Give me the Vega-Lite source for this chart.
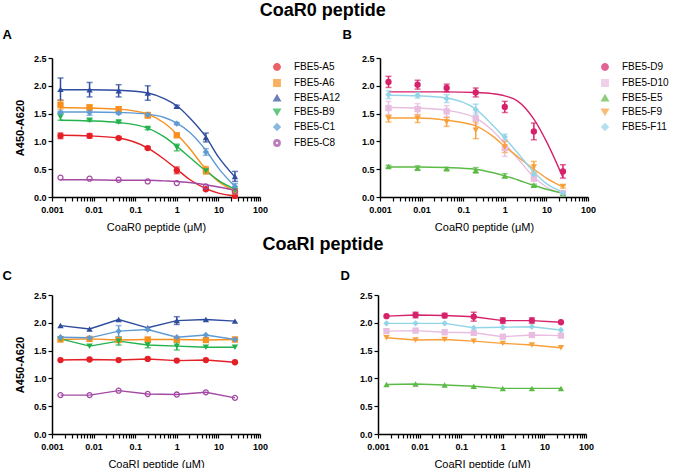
{
  "$schema": "https://vega.github.io/schema/vega-lite/v6.json",
  "padding": {"left": 2, "top": 2, "right": 0, "bottom": 0},
  "config": {
    "view": {"stroke": null},
    "font": "Liberation Sans",
    "title": {"font": "Liberation Sans", "color": "black"},
    "axis": {
      "grid": false,
      "domainColor": "black",
      "domainWidth": 1.5,
      "tickColor": "black",
      "tickWidth": 1.2,
      "tickSize": 4,
      "labelFont": "Liberation Sans",
      "labelFontWeight": "bold",
      "labelFontSize": 9,
      "labelColor": "black",
      "labelPadding": 2,
      "titleFont": "Liberation Sans",
      "titleColor": "black"
    },
    "axisX": {"labelPadding": 4, "titlePadding": 7},
    "legend": {
      "orient": "none",
      "legendX": 220,
      "legendY": 4,
      "title": null,
      "labelFont": "Liberation Sans",
      "labelFontSize": 10,
      "labelColor": "black",
      "symbolSize": 40,
      "padding": 0,
      "labelOffset": 12,
      "rowPadding": 2,
      "labelLimit": 200
    }
  },
  "datasets": {
    "pts": [
      {"panel": "A", "series": "FBE5-A5", "x": 0.0016, "y": 1.10, "sd": 0.05},
      {"panel": "A", "series": "FBE5-A5", "x": 0.008, "y": 1.10, "sd": 0.04},
      {"panel": "A", "series": "FBE5-A5", "x": 0.04, "y": 1.06, "sd": 0.02},
      {"panel": "A", "series": "FBE5-A5", "x": 0.2, "y": 0.88, "sd": 0.02},
      {"panel": "A", "series": "FBE5-A5", "x": 1, "y": 0.48, "sd": 0.06},
      {"panel": "A", "series": "FBE5-A5", "x": 5, "y": 0.14, "sd": 0.02},
      {"panel": "A", "series": "FBE5-A5", "x": 25, "y": 0.02, "sd": 0.02},
      {"panel": "A", "series": "FBE5-A6", "x": 0.0016, "y": 1.66, "sd": 0.08},
      {"panel": "A", "series": "FBE5-A6", "x": 0.008, "y": 1.61, "sd": 0.05},
      {"panel": "A", "series": "FBE5-A6", "x": 0.04, "y": 1.58, "sd": 0.04},
      {"panel": "A", "series": "FBE5-A6", "x": 0.2, "y": 1.47, "sd": 0.05},
      {"panel": "A", "series": "FBE5-A6", "x": 1, "y": 1.11, "sd": 0.03},
      {"panel": "A", "series": "FBE5-A6", "x": 5, "y": 0.48, "sd": 0.07},
      {"panel": "A", "series": "FBE5-A6", "x": 25, "y": 0.10, "sd": 0.03},
      {"panel": "A", "series": "FBE5-A12", "x": 0.0016, "y": 1.94, "sd": 0.2},
      {"panel": "A", "series": "FBE5-A12", "x": 0.008, "y": 1.93, "sd": 0.13},
      {"panel": "A", "series": "FBE5-A12", "x": 0.04, "y": 1.91, "sd": 0.11},
      {"panel": "A", "series": "FBE5-A12", "x": 0.2, "y": 1.87, "sd": 0.13},
      {"panel": "A", "series": "FBE5-A12", "x": 1, "y": 1.63, "sd": 0.02},
      {"panel": "A", "series": "FBE5-A12", "x": 5, "y": 1.07, "sd": 0.08},
      {"panel": "A", "series": "FBE5-A12", "x": 25, "y": 0.37, "sd": 0.09},
      {"panel": "A", "series": "FBE5-B9", "x": 0.0016, "y": 1.44, "sd": 0.06},
      {"panel": "A", "series": "FBE5-B9", "x": 0.008, "y": 1.38, "sd": 0.02},
      {"panel": "A", "series": "FBE5-B9", "x": 0.04, "y": 1.35, "sd": 0.02},
      {"panel": "A", "series": "FBE5-B9", "x": 0.2, "y": 1.23, "sd": 0.02},
      {"panel": "A", "series": "FBE5-B9", "x": 1, "y": 0.89, "sd": 0.06},
      {"panel": "A", "series": "FBE5-B9", "x": 5, "y": 0.47, "sd": 0.04},
      {"panel": "A", "series": "FBE5-B9", "x": 25, "y": 0.12, "sd": 0.02},
      {"panel": "A", "series": "FBE5-C1", "x": 0.0016, "y": 1.52, "sd": 0.02},
      {"panel": "A", "series": "FBE5-C1", "x": 0.008, "y": 1.52, "sd": 0.05},
      {"panel": "A", "series": "FBE5-C1", "x": 0.04, "y": 1.51, "sd": 0.02},
      {"panel": "A", "series": "FBE5-C1", "x": 0.2, "y": 1.48, "sd": 0.03},
      {"panel": "A", "series": "FBE5-C1", "x": 1, "y": 1.32, "sd": 0.02},
      {"panel": "A", "series": "FBE5-C1", "x": 5, "y": 0.81, "sd": 0.06},
      {"panel": "A", "series": "FBE5-C1", "x": 25, "y": 0.19, "sd": 0.05},
      {"panel": "A", "series": "FBE5-C8", "x": 0.0016, "y": 0.35, "sd": 0},
      {"panel": "A", "series": "FBE5-C8", "x": 0.008, "y": 0.33, "sd": 0},
      {"panel": "A", "series": "FBE5-C8", "x": 0.04, "y": 0.31, "sd": 0},
      {"panel": "A", "series": "FBE5-C8", "x": 0.2, "y": 0.28, "sd": 0},
      {"panel": "A", "series": "FBE5-C8", "x": 1, "y": 0.25, "sd": 0},
      {"panel": "A", "series": "FBE5-C8", "x": 5, "y": 0.19, "sd": 0},
      {"panel": "A", "series": "FBE5-C8", "x": 25, "y": 0.10, "sd": 0},

      {"panel": "B", "series": "FBE5-D9", "x": 0.0016, "y": 2.07, "sd": 0.1},
      {"panel": "B", "series": "FBE5-D9", "x": 0.008, "y": 2.02, "sd": 0.08},
      {"panel": "B", "series": "FBE5-D9", "x": 0.04, "y": 1.96, "sd": 0.07},
      {"panel": "B", "series": "FBE5-D9", "x": 0.2, "y": 1.88, "sd": 0.08},
      {"panel": "B", "series": "FBE5-D9", "x": 1, "y": 1.62, "sd": 0.1},
      {"panel": "B", "series": "FBE5-D9", "x": 5, "y": 1.18, "sd": 0.15},
      {"panel": "B", "series": "FBE5-D9", "x": 25, "y": 0.46, "sd": 0.12},
      {"panel": "B", "series": "FBE5-D10", "x": 0.0016, "y": 1.60, "sd": 0.12},
      {"panel": "B", "series": "FBE5-D10", "x": 0.008, "y": 1.58, "sd": 0.1},
      {"panel": "B", "series": "FBE5-D10", "x": 0.04, "y": 1.54, "sd": 0.1},
      {"panel": "B", "series": "FBE5-D10", "x": 0.2, "y": 1.41, "sd": 0.1},
      {"panel": "B", "series": "FBE5-D10", "x": 1, "y": 0.88, "sd": 0.15},
      {"panel": "B", "series": "FBE5-D10", "x": 5, "y": 0.34, "sd": 0.06},
      {"panel": "B", "series": "FBE5-D10", "x": 25, "y": 0.07, "sd": 0.02},
      {"panel": "B", "series": "FBE5-E5", "x": 0.0016, "y": 0.55, "sd": 0.02},
      {"panel": "B", "series": "FBE5-E5", "x": 0.008, "y": 0.52, "sd": 0.04},
      {"panel": "B", "series": "FBE5-E5", "x": 0.04, "y": 0.51, "sd": 0.02},
      {"panel": "B", "series": "FBE5-E5", "x": 0.2, "y": 0.48, "sd": 0.05},
      {"panel": "B", "series": "FBE5-E5", "x": 1, "y": 0.38, "sd": 0.04},
      {"panel": "B", "series": "FBE5-E5", "x": 5, "y": 0.21, "sd": 0.02},
      {"panel": "B", "series": "FBE5-E5", "x": 25, "y": 0.06, "sd": 0.01},
      {"panel": "B", "series": "FBE5-F9", "x": 0.0016, "y": 1.41, "sd": 0.06},
      {"panel": "B", "series": "FBE5-F9", "x": 0.008, "y": 1.41, "sd": 0.07},
      {"panel": "B", "series": "FBE5-F9", "x": 0.04, "y": 1.35, "sd": 0.08},
      {"panel": "B", "series": "FBE5-F9", "x": 0.2, "y": 1.20, "sd": 0.15},
      {"panel": "B", "series": "FBE5-F9", "x": 1, "y": 0.90, "sd": 0.1},
      {"panel": "B", "series": "FBE5-F9", "x": 5, "y": 0.54, "sd": 0.1},
      {"panel": "B", "series": "FBE5-F9", "x": 25, "y": 0.19, "sd": 0.03},
      {"panel": "B", "series": "FBE5-F11", "x": 0.0016, "y": 1.84, "sd": 0.07},
      {"panel": "B", "series": "FBE5-F11", "x": 0.008, "y": 1.83, "sd": 0.05},
      {"panel": "B", "series": "FBE5-F11", "x": 0.04, "y": 1.77, "sd": 0.07},
      {"panel": "B", "series": "FBE5-F11", "x": 0.2, "y": 1.57, "sd": 0.1},
      {"panel": "B", "series": "FBE5-F11", "x": 1, "y": 1.08, "sd": 0.05},
      {"panel": "B", "series": "FBE5-F11", "x": 5, "y": 0.41, "sd": 0.06},
      {"panel": "B", "series": "FBE5-F11", "x": 25, "y": 0.07, "sd": 0.02},

      {"panel": "C", "series": "FBE5-A5", "x": 0.0016, "y": 1.33, "sd": 0},
      {"panel": "C", "series": "FBE5-A5", "x": 0.008, "y": 1.34, "sd": 0},
      {"panel": "C", "series": "FBE5-A5", "x": 0.04, "y": 1.33, "sd": 0},
      {"panel": "C", "series": "FBE5-A5", "x": 0.2, "y": 1.35, "sd": 0},
      {"panel": "C", "series": "FBE5-A5", "x": 1, "y": 1.32, "sd": 0},
      {"panel": "C", "series": "FBE5-A5", "x": 5, "y": 1.33, "sd": 0},
      {"panel": "C", "series": "FBE5-A5", "x": 25, "y": 1.29, "sd": 0},
      {"panel": "C", "series": "FBE5-A6", "x": 0.0016, "y": 1.70, "sd": 0},
      {"panel": "C", "series": "FBE5-A6", "x": 0.008, "y": 1.71, "sd": 0},
      {"panel": "C", "series": "FBE5-A6", "x": 0.04, "y": 1.69, "sd": 0},
      {"panel": "C", "series": "FBE5-A6", "x": 0.2, "y": 1.70, "sd": 0},
      {"panel": "C", "series": "FBE5-A6", "x": 1, "y": 1.70, "sd": 0},
      {"panel": "C", "series": "FBE5-A6", "x": 5, "y": 1.69, "sd": 0},
      {"panel": "C", "series": "FBE5-A6", "x": 25, "y": 1.70, "sd": 0},
      {"panel": "C", "series": "FBE5-A12", "x": 0.0016, "y": 1.95, "sd": 0},
      {"panel": "C", "series": "FBE5-A12", "x": 0.008, "y": 1.89, "sd": 0},
      {"panel": "C", "series": "FBE5-A12", "x": 0.04, "y": 2.06, "sd": 0},
      {"panel": "C", "series": "FBE5-A12", "x": 0.2, "y": 1.91, "sd": 0},
      {"panel": "C", "series": "FBE5-A12", "x": 1, "y": 2.04, "sd": 0.07},
      {"panel": "C", "series": "FBE5-A12", "x": 5, "y": 2.06, "sd": 0},
      {"panel": "C", "series": "FBE5-A12", "x": 25, "y": 2.03, "sd": 0},
      {"panel": "C", "series": "FBE5-B9", "x": 0.0016, "y": 1.71, "sd": 0},
      {"panel": "C", "series": "FBE5-B9", "x": 0.008, "y": 1.58, "sd": 0},
      {"panel": "C", "series": "FBE5-B9", "x": 0.04, "y": 1.67, "sd": 0.07},
      {"panel": "C", "series": "FBE5-B9", "x": 0.2, "y": 1.60, "sd": 0.05},
      {"panel": "C", "series": "FBE5-B9", "x": 1, "y": 1.58, "sd": 0.07},
      {"panel": "C", "series": "FBE5-B9", "x": 5, "y": 1.56, "sd": 0},
      {"panel": "C", "series": "FBE5-B9", "x": 25, "y": 1.56, "sd": 0},
      {"panel": "C", "series": "FBE5-C1", "x": 0.0016, "y": 1.74, "sd": 0},
      {"panel": "C", "series": "FBE5-C1", "x": 0.008, "y": 1.73, "sd": 0},
      {"panel": "C", "series": "FBE5-C1", "x": 0.04, "y": 1.85, "sd": 0.1},
      {"panel": "C", "series": "FBE5-C1", "x": 0.2, "y": 1.88, "sd": 0},
      {"panel": "C", "series": "FBE5-C1", "x": 1, "y": 1.74, "sd": 0},
      {"panel": "C", "series": "FBE5-C1", "x": 5, "y": 1.78, "sd": 0},
      {"panel": "C", "series": "FBE5-C1", "x": 25, "y": 1.70, "sd": 0},
      {"panel": "C", "series": "FBE5-C8", "x": 0.0016, "y": 0.70, "sd": 0},
      {"panel": "C", "series": "FBE5-C8", "x": 0.008, "y": 0.70, "sd": 0},
      {"panel": "C", "series": "FBE5-C8", "x": 0.04, "y": 0.78, "sd": 0},
      {"panel": "C", "series": "FBE5-C8", "x": 0.2, "y": 0.72, "sd": 0},
      {"panel": "C", "series": "FBE5-C8", "x": 1, "y": 0.71, "sd": 0},
      {"panel": "C", "series": "FBE5-C8", "x": 5, "y": 0.75, "sd": 0},
      {"panel": "C", "series": "FBE5-C8", "x": 25, "y": 0.65, "sd": 0},

      {"panel": "D", "series": "FBE5-D9", "x": 0.0016, "y": 2.12, "sd": 0},
      {"panel": "D", "series": "FBE5-D9", "x": 0.008, "y": 2.14, "sd": 0.05},
      {"panel": "D", "series": "FBE5-D9", "x": 0.04, "y": 2.13, "sd": 0.04},
      {"panel": "D", "series": "FBE5-D9", "x": 0.2, "y": 2.11, "sd": 0.08},
      {"panel": "D", "series": "FBE5-D9", "x": 1, "y": 2.04, "sd": 0.05},
      {"panel": "D", "series": "FBE5-D9", "x": 5, "y": 2.04, "sd": 0.05},
      {"panel": "D", "series": "FBE5-D9", "x": 25, "y": 2.01, "sd": 0},
      {"panel": "D", "series": "FBE5-D10", "x": 0.0016, "y": 1.85, "sd": 0},
      {"panel": "D", "series": "FBE5-D10", "x": 0.008, "y": 1.86, "sd": 0},
      {"panel": "D", "series": "FBE5-D10", "x": 0.04, "y": 1.83, "sd": 0},
      {"panel": "D", "series": "FBE5-D10", "x": 0.2, "y": 1.82, "sd": 0},
      {"panel": "D", "series": "FBE5-D10", "x": 1, "y": 1.75, "sd": 0},
      {"panel": "D", "series": "FBE5-D10", "x": 5, "y": 1.78, "sd": 0},
      {"panel": "D", "series": "FBE5-D10", "x": 25, "y": 1.77, "sd": 0},
      {"panel": "D", "series": "FBE5-E5", "x": 0.0016, "y": 0.89, "sd": 0},
      {"panel": "D", "series": "FBE5-E5", "x": 0.008, "y": 0.90, "sd": 0},
      {"panel": "D", "series": "FBE5-E5", "x": 0.04, "y": 0.88, "sd": 0},
      {"panel": "D", "series": "FBE5-E5", "x": 0.2, "y": 0.86, "sd": 0},
      {"panel": "D", "series": "FBE5-E5", "x": 1, "y": 0.82, "sd": 0},
      {"panel": "D", "series": "FBE5-E5", "x": 5, "y": 0.82, "sd": 0},
      {"panel": "D", "series": "FBE5-E5", "x": 25, "y": 0.82, "sd": 0},
      {"panel": "D", "series": "FBE5-F9", "x": 0.0016, "y": 1.73, "sd": 0},
      {"panel": "D", "series": "FBE5-F9", "x": 0.008, "y": 1.69, "sd": 0},
      {"panel": "D", "series": "FBE5-F9", "x": 0.04, "y": 1.70, "sd": 0},
      {"panel": "D", "series": "FBE5-F9", "x": 0.2, "y": 1.67, "sd": 0},
      {"panel": "D", "series": "FBE5-F9", "x": 1, "y": 1.63, "sd": 0},
      {"panel": "D", "series": "FBE5-F9", "x": 5, "y": 1.60, "sd": 0},
      {"panel": "D", "series": "FBE5-F9", "x": 25, "y": 1.55, "sd": 0},
      {"panel": "D", "series": "FBE5-F11", "x": 0.0016, "y": 1.99, "sd": 0},
      {"panel": "D", "series": "FBE5-F11", "x": 0.008, "y": 1.99, "sd": 0},
      {"panel": "D", "series": "FBE5-F11", "x": 0.04, "y": 1.99, "sd": 0},
      {"panel": "D", "series": "FBE5-F11", "x": 0.2, "y": 1.91, "sd": 0},
      {"panel": "D", "series": "FBE5-F11", "x": 1, "y": 1.92, "sd": 0},
      {"panel": "D", "series": "FBE5-F11", "x": 5, "y": 1.93, "sd": 0},
      {"panel": "D", "series": "FBE5-F11", "x": 25, "y": 1.87, "sd": 0}
    ],
    "fit": [
      {"panel": "A", "series": "FBE5-A5", "x": 0.0016, "y": 1.11}, {"panel": "A", "series": "FBE5-A5", "x": 0.008, "y": 1.10}, {"panel": "A", "series": "FBE5-A5", "x": 0.04, "y": 1.06}, {"panel": "A", "series": "FBE5-A5", "x": 0.2, "y": 0.88}, {"panel": "A", "series": "FBE5-A5", "x": 0.5, "y": 0.68}, {"panel": "A", "series": "FBE5-A5", "x": 1, "y": 0.50}, {"panel": "A", "series": "FBE5-A5", "x": 2, "y": 0.32}, {"panel": "A", "series": "FBE5-A5", "x": 5, "y": 0.15}, {"panel": "A", "series": "FBE5-A5", "x": 10, "y": 0.07}, {"panel": "A", "series": "FBE5-A5", "x": 25, "y": 0.02},
      {"panel": "A", "series": "FBE5-A6", "x": 0.0016, "y": 1.61}, {"panel": "A", "series": "FBE5-A6", "x": 0.008, "y": 1.60}, {"panel": "A", "series": "FBE5-A6", "x": 0.04, "y": 1.58}, {"panel": "A", "series": "FBE5-A6", "x": 0.2, "y": 1.49}, {"panel": "A", "series": "FBE5-A6", "x": 0.5, "y": 1.33}, {"panel": "A", "series": "FBE5-A6", "x": 1, "y": 1.13}, {"panel": "A", "series": "FBE5-A6", "x": 2, "y": 0.88}, {"panel": "A", "series": "FBE5-A6", "x": 5, "y": 0.50}, {"panel": "A", "series": "FBE5-A6", "x": 10, "y": 0.28}, {"panel": "A", "series": "FBE5-A6", "x": 25, "y": 0.11},
      {"panel": "A", "series": "FBE5-A12", "x": 0.0016, "y": 1.93}, {"panel": "A", "series": "FBE5-A12", "x": 0.008, "y": 1.93}, {"panel": "A", "series": "FBE5-A12", "x": 0.04, "y": 1.92}, {"panel": "A", "series": "FBE5-A12", "x": 0.2, "y": 1.87}, {"panel": "A", "series": "FBE5-A12", "x": 0.5, "y": 1.77}, {"panel": "A", "series": "FBE5-A12", "x": 1, "y": 1.64}, {"panel": "A", "series": "FBE5-A12", "x": 2, "y": 1.43}, {"panel": "A", "series": "FBE5-A12", "x": 5, "y": 1.08}, {"panel": "A", "series": "FBE5-A12", "x": 10, "y": 0.72}, {"panel": "A", "series": "FBE5-A12", "x": 25, "y": 0.36},
      {"panel": "A", "series": "FBE5-B9", "x": 0.0016, "y": 1.38}, {"panel": "A", "series": "FBE5-B9", "x": 0.008, "y": 1.37}, {"panel": "A", "series": "FBE5-B9", "x": 0.04, "y": 1.34}, {"panel": "A", "series": "FBE5-B9", "x": 0.2, "y": 1.24}, {"panel": "A", "series": "FBE5-B9", "x": 0.5, "y": 1.08}, {"panel": "A", "series": "FBE5-B9", "x": 1, "y": 0.91}, {"panel": "A", "series": "FBE5-B9", "x": 2, "y": 0.72}, {"panel": "A", "series": "FBE5-B9", "x": 5, "y": 0.47}, {"panel": "A", "series": "FBE5-B9", "x": 10, "y": 0.30}, {"panel": "A", "series": "FBE5-B9", "x": 25, "y": 0.14},
      {"panel": "A", "series": "FBE5-C1", "x": 0.0016, "y": 1.53}, {"panel": "A", "series": "FBE5-C1", "x": 0.008, "y": 1.53}, {"panel": "A", "series": "FBE5-C1", "x": 0.04, "y": 1.52}, {"panel": "A", "series": "FBE5-C1", "x": 0.2, "y": 1.49}, {"panel": "A", "series": "FBE5-C1", "x": 0.5, "y": 1.43}, {"panel": "A", "series": "FBE5-C1", "x": 1, "y": 1.33}, {"panel": "A", "series": "FBE5-C1", "x": 2, "y": 1.17}, {"panel": "A", "series": "FBE5-C1", "x": 5, "y": 0.84}, {"panel": "A", "series": "FBE5-C1", "x": 10, "y": 0.52}, {"panel": "A", "series": "FBE5-C1", "x": 25, "y": 0.19},
      {"panel": "A", "series": "FBE5-C8", "x": 0.0016, "y": 0.31}, {"panel": "A", "series": "FBE5-C8", "x": 0.008, "y": 0.31}, {"panel": "A", "series": "FBE5-C8", "x": 0.04, "y": 0.30}, {"panel": "A", "series": "FBE5-C8", "x": 0.2, "y": 0.30}, {"panel": "A", "series": "FBE5-C8", "x": 0.5, "y": 0.29}, {"panel": "A", "series": "FBE5-C8", "x": 1, "y": 0.28}, {"panel": "A", "series": "FBE5-C8", "x": 2, "y": 0.26}, {"panel": "A", "series": "FBE5-C8", "x": 5, "y": 0.22}, {"panel": "A", "series": "FBE5-C8", "x": 10, "y": 0.18}, {"panel": "A", "series": "FBE5-C8", "x": 25, "y": 0.12},
      {"panel": "B", "series": "FBE5-D9", "x": 0.0016, "y": 1.89}, {"panel": "B", "series": "FBE5-D9", "x": 0.008, "y": 1.89}, {"panel": "B", "series": "FBE5-D9", "x": 0.04, "y": 1.89}, {"panel": "B", "series": "FBE5-D9", "x": 0.2, "y": 1.88}, {"panel": "B", "series": "FBE5-D9", "x": 0.5, "y": 1.86}, {"panel": "B", "series": "FBE5-D9", "x": 1, "y": 1.82}, {"panel": "B", "series": "FBE5-D9", "x": 2, "y": 1.73}, {"panel": "B", "series": "FBE5-D9", "x": 5, "y": 1.40}, {"panel": "B", "series": "FBE5-D9", "x": 10, "y": 1.00}, {"panel": "B", "series": "FBE5-D9", "x": 25, "y": 0.35},
      {"panel": "B", "series": "FBE5-D10", "x": 0.0016, "y": 1.61}, {"panel": "B", "series": "FBE5-D10", "x": 0.008, "y": 1.60}, {"panel": "B", "series": "FBE5-D10", "x": 0.04, "y": 1.56}, {"panel": "B", "series": "FBE5-D10", "x": 0.2, "y": 1.42}, {"panel": "B", "series": "FBE5-D10", "x": 0.5, "y": 1.20}, {"panel": "B", "series": "FBE5-D10", "x": 1, "y": 0.96}, {"panel": "B", "series": "FBE5-D10", "x": 2, "y": 0.70}, {"panel": "B", "series": "FBE5-D10", "x": 5, "y": 0.36}, {"panel": "B", "series": "FBE5-D10", "x": 10, "y": 0.18}, {"panel": "B", "series": "FBE5-D10", "x": 25, "y": 0.06},
      {"panel": "B", "series": "FBE5-E5", "x": 0.0016, "y": 0.54}, {"panel": "B", "series": "FBE5-E5", "x": 0.008, "y": 0.54}, {"panel": "B", "series": "FBE5-E5", "x": 0.04, "y": 0.53}, {"panel": "B", "series": "FBE5-E5", "x": 0.2, "y": 0.50}, {"panel": "B", "series": "FBE5-E5", "x": 0.5, "y": 0.44}, {"panel": "B", "series": "FBE5-E5", "x": 1, "y": 0.38}, {"panel": "B", "series": "FBE5-E5", "x": 2, "y": 0.31}, {"panel": "B", "series": "FBE5-E5", "x": 5, "y": 0.21}, {"panel": "B", "series": "FBE5-E5", "x": 10, "y": 0.14}, {"panel": "B", "series": "FBE5-E5", "x": 25, "y": 0.07},
      {"panel": "B", "series": "FBE5-F9", "x": 0.0016, "y": 1.42}, {"panel": "B", "series": "FBE5-F9", "x": 0.008, "y": 1.42}, {"panel": "B", "series": "FBE5-F9", "x": 0.04, "y": 1.38}, {"panel": "B", "series": "FBE5-F9", "x": 0.2, "y": 1.28}, {"panel": "B", "series": "FBE5-F9", "x": 0.5, "y": 1.10}, {"panel": "B", "series": "FBE5-F9", "x": 1, "y": 0.91}, {"panel": "B", "series": "FBE5-F9", "x": 2, "y": 0.73}, {"panel": "B", "series": "FBE5-F9", "x": 5, "y": 0.50}, {"panel": "B", "series": "FBE5-F9", "x": 10, "y": 0.34}, {"panel": "B", "series": "FBE5-F9", "x": 25, "y": 0.18},
      {"panel": "B", "series": "FBE5-F11", "x": 0.0016, "y": 1.83}, {"panel": "B", "series": "FBE5-F11", "x": 0.008, "y": 1.82}, {"panel": "B", "series": "FBE5-F11", "x": 0.04, "y": 1.78}, {"panel": "B", "series": "FBE5-F11", "x": 0.2, "y": 1.58}, {"panel": "B", "series": "FBE5-F11", "x": 0.5, "y": 1.30}, {"panel": "B", "series": "FBE5-F11", "x": 1, "y": 1.06}, {"panel": "B", "series": "FBE5-F11", "x": 2, "y": 0.80}, {"panel": "B", "series": "FBE5-F11", "x": 5, "y": 0.45}, {"panel": "B", "series": "FBE5-F11", "x": 10, "y": 0.24}, {"panel": "B", "series": "FBE5-F11", "x": 25, "y": 0.09}
    ]
  },
  "spacing": 4,
  "resolve": {"scale": {"color": "independent", "shape": "independent"}, "legend": {"color": "independent", "shape": "independent"}},
  "vconcat": [
    {
      "title": {"text": "CoaR0 peptide", "fontSize": 18, "fontWeight": "bold", "anchor": "middle", "offset": 9, "dx": -13},
      "spacing": 1,
      "resolve": {"scale": {"color": "independent", "shape": "independent"}, "legend": {"color": "independent", "shape": "independent"}},
      "hconcat": [
        {
          "title": {"text": "A", "anchor": "start", "fontSize": 13, "fontWeight": "bold", "dx": -12, "offset": 12},
          "width": 208, "height": 139,
          "encoding": {
            "x": {"field": "x", "type": "quantitative", "scale": {"type": "log", "domain": [0.001, 100], "nice": false},
              "axis": {"title": "CoaR0 peptide (μM)", "titleFontWeight": "normal", "titleFontSize": 11,
                "values": [0.001,0.002,0.003,0.004,0.005,0.006,0.007,0.008,0.009,0.01,0.02,0.03,0.04,0.05,0.06,0.07,0.08,0.09,0.1,0.2,0.3,0.4,0.5,0.6,0.7,0.8,0.9,1,2,3,4,5,6,7,8,9,10,20,30,40,50,60,70,80,90,100],
                "format": "~g", "labelOverlap": false, "labelFlush": false,
                "labelExpr": "indexof([0.001,0.01,0.1,1,10,100], datum.value) >= 0 ? datum.label : ''",
                "encode": {"ticks": {"y2": {"value": {"expr": "indexof([0.001,0.01,0.1,1,10,100], datum.value) >= 0 ? 5 : 3"}}}}}},
            "y": {"field": "y", "type": "quantitative", "scale": {"domain": [0, 2.5], "nice": false},
              "axis": {"title": "A450-A620", "titleFontWeight": "bold", "titleFontSize": 11, "titlePadding": 8, "values": [0, 0.5, 1, 1.5, 2, 2.5], "format": ".1f"}},
            "color": {"field": "series", "type": "nominal", "title": null,
              "scale": {"domain": ["FBE5-A5", "FBE5-A6", "FBE5-A12", "FBE5-B9", "FBE5-C1", "FBE5-C8"], "range": ["#e41f26", "#f7901e", "#2e4c9e", "#22b24c", "#5e9ad3", "#a349a4"]}}
          },
          "layer": [
            {"data": {"name": "fit"}, "transform": [{"filter": "datum.panel == 'A'"}], "mark": {"type": "line", "interpolate": "monotone", "strokeWidth": 1.4}},
            {"data": {"name": "pts"}, "transform": [{"filter": "datum.panel == 'A' && datum.sd > 0"}], "mark": {"type": "errorbar", "ticks": {"size": 6}, "thickness": 1.5}, "encoding": {"yError": {"field": "sd"}}},
            {"data": {"name": "pts"}, "transform": [{"filter": "datum.panel == 'A'"}], "mark": {"type": "point", "filled": true, "opacity": 1, "size": 40},
              "encoding": {
                "shape": {"field": "series", "type": "nominal", "title": null, "scale": {"domain": ["FBE5-A5", "FBE5-A6", "FBE5-A12", "FBE5-B9", "FBE5-C1", "FBE5-C8"], "range": ["circle", "square", "triangle-up", "triangle-down", "diamond", "M-1,0A1,1,0,1,0,1,0A1,1,0,1,0,-1,0ZM-0.6,0A0.6,0.6,0,1,1,0.6,0A0.6,0.6,0,1,1,-0.6,0Z"]}}
              }}
          ]
        },
        {
          "title": {"text": "B", "anchor": "start", "fontSize": 13, "fontWeight": "bold", "dx": -19, "offset": 12},
          "width": 208, "height": 139,
          "encoding": {
            "x": {"field": "x", "type": "quantitative", "scale": {"type": "log", "domain": [0.001, 100], "nice": false},
              "axis": {"title": "CoaR0 peptide (μM)", "titleFontWeight": "normal", "titleFontSize": 11,
                "values": [0.001,0.002,0.003,0.004,0.005,0.006,0.007,0.008,0.009,0.01,0.02,0.03,0.04,0.05,0.06,0.07,0.08,0.09,0.1,0.2,0.3,0.4,0.5,0.6,0.7,0.8,0.9,1,2,3,4,5,6,7,8,9,10,20,30,40,50,60,70,80,90,100],
                "format": "~g", "labelOverlap": false, "labelFlush": false,
                "labelExpr": "indexof([0.001,0.01,0.1,1,10,100], datum.value) >= 0 ? datum.label : ''",
                "encode": {"ticks": {"y2": {"value": {"expr": "indexof([0.001,0.01,0.1,1,10,100], datum.value) >= 0 ? 5 : 3"}}}}}},
            "y": {"field": "y", "type": "quantitative", "scale": {"domain": [0, 2.5], "nice": false},
              "axis": {"title": null, "values": [0, 0.5, 1, 1.5, 2, 2.5], "format": ".1f"}},
            "color": {"field": "series", "type": "nominal", "title": null,
              "scale": {"domain": ["FBE5-D9", "FBE5-D10", "FBE5-E5", "FBE5-F9", "FBE5-F11"], "range": ["#d6226b", "#e8bde0", "#5cba47", "#f8a03a", "#92d5e8"]}}
          },
          "layer": [
            {"data": {"name": "fit"}, "transform": [{"filter": "datum.panel == 'B'"}], "mark": {"type": "line", "interpolate": "monotone", "strokeWidth": 1.4}},
            {"data": {"name": "pts"}, "transform": [{"filter": "datum.panel == 'B' && datum.sd > 0"}], "mark": {"type": "errorbar", "ticks": {"size": 6}, "thickness": 1.5}, "encoding": {"yError": {"field": "sd"}}},
            {"data": {"name": "pts"}, "transform": [{"filter": "datum.panel == 'B'"}], "mark": {"type": "point", "filled": true, "opacity": 1, "size": 40},
              "encoding": {
                "shape": {"field": "series", "type": "nominal", "title": null, "scale": {"domain": ["FBE5-D9", "FBE5-D10", "FBE5-E5", "FBE5-F9", "FBE5-F11"], "range": ["circle", "square", "triangle-up", "triangle-down", "diamond"]}}
              }}
          ]
        }
      ]
    },
    {
      "title": {"text": "CoaRI peptide", "fontSize": 18, "fontWeight": "bold", "anchor": "middle", "offset": 16, "dx": 25},
      "spacing": 72,
      "resolve": {"scale": {"color": "independent", "shape": "independent"}},
      "hconcat": [
        {
          "title": {"text": "C", "anchor": "start", "fontSize": 13, "fontWeight": "bold", "dx": -12, "offset": 8},
          "width": 208, "height": 139,
          "encoding": {
            "x": {"field": "x", "type": "quantitative", "scale": {"type": "log", "domain": [0.001, 100], "nice": false},
              "axis": {"title": "CoaRI peptide (μM)", "titleFontWeight": "normal", "titleFontSize": 11,
                "values": [0.001,0.002,0.003,0.004,0.005,0.006,0.007,0.008,0.009,0.01,0.02,0.03,0.04,0.05,0.06,0.07,0.08,0.09,0.1,0.2,0.3,0.4,0.5,0.6,0.7,0.8,0.9,1,2,3,4,5,6,7,8,9,10,20,30,40,50,60,70,80,90,100],
                "format": "~g", "labelOverlap": false, "labelFlush": false,
                "labelExpr": "indexof([0.001,0.01,0.1,1,10,100], datum.value) >= 0 ? datum.label : ''",
                "encode": {"ticks": {"y2": {"value": {"expr": "indexof([0.001,0.01,0.1,1,10,100], datum.value) >= 0 ? 5 : 3"}}}}}},
            "y": {"field": "y", "type": "quantitative", "scale": {"domain": [0, 2.5], "nice": false},
              "axis": {"title": "A450-A620", "titleFontWeight": "bold", "titleFontSize": 11, "titlePadding": 8, "values": [0, 0.5, 1, 1.5, 2, 2.5], "format": ".1f"}},
            "color": {"field": "series", "type": "nominal", "legend": null,
              "scale": {"domain": ["FBE5-A5", "FBE5-A6", "FBE5-A12", "FBE5-B9", "FBE5-C1", "FBE5-C8"], "range": ["#e41f26", "#f7901e", "#2e4c9e", "#22b24c", "#5e9ad3", "#a349a4"]}}
          },
          "layer": [
            {"data": {"name": "pts"}, "transform": [{"filter": "datum.panel == 'C'"}], "mark": {"type": "line", "strokeWidth": 1.4}},
            {"data": {"name": "pts"}, "transform": [{"filter": "datum.panel == 'C' && datum.sd > 0"}], "mark": {"type": "errorbar", "ticks": {"size": 6}, "thickness": 1.5}, "encoding": {"yError": {"field": "sd"}}},
            {"data": {"name": "pts"}, "transform": [{"filter": "datum.panel == 'C'"}], "mark": {"type": "point", "filled": true, "opacity": 1, "size": 40},
              "encoding": {
                "shape": {"field": "series", "type": "nominal", "legend": null, "scale": {"domain": ["FBE5-A5", "FBE5-A6", "FBE5-A12", "FBE5-B9", "FBE5-C1", "FBE5-C8"], "range": ["circle", "square", "triangle-up", "triangle-down", "diamond", "M-1,0A1,1,0,1,0,1,0A1,1,0,1,0,-1,0ZM-0.6,0A0.6,0.6,0,1,1,0.6,0A0.6,0.6,0,1,1,-0.6,0Z"]}}
              }}
          ]
        },
        {
          "title": {"text": "D", "anchor": "start", "fontSize": 13, "fontWeight": "bold", "dx": -19, "offset": 8},
          "width": 208, "height": 139,
          "encoding": {
            "x": {"field": "x", "type": "quantitative", "scale": {"type": "log", "domain": [0.001, 100], "nice": false},
              "axis": {"title": "CoaRI peptide (μM)", "titleFontWeight": "normal", "titleFontSize": 11,
                "values": [0.001,0.002,0.003,0.004,0.005,0.006,0.007,0.008,0.009,0.01,0.02,0.03,0.04,0.05,0.06,0.07,0.08,0.09,0.1,0.2,0.3,0.4,0.5,0.6,0.7,0.8,0.9,1,2,3,4,5,6,7,8,9,10,20,30,40,50,60,70,80,90,100],
                "format": "~g", "labelOverlap": false, "labelFlush": false,
                "labelExpr": "indexof([0.001,0.01,0.1,1,10,100], datum.value) >= 0 ? datum.label : ''",
                "encode": {"ticks": {"y2": {"value": {"expr": "indexof([0.001,0.01,0.1,1,10,100], datum.value) >= 0 ? 5 : 3"}}}}}},
            "y": {"field": "y", "type": "quantitative", "scale": {"domain": [0, 2.5], "nice": false},
              "axis": {"title": null, "values": [0, 0.5, 1, 1.5, 2, 2.5], "format": ".1f"}},
            "color": {"field": "series", "type": "nominal", "legend": null,
              "scale": {"domain": ["FBE5-D9", "FBE5-D10", "FBE5-E5", "FBE5-F9", "FBE5-F11"], "range": ["#d6226b", "#e8bde0", "#5cba47", "#f8a03a", "#92d5e8"]}}
          },
          "layer": [
            {"data": {"name": "pts"}, "transform": [{"filter": "datum.panel == 'D'"}], "mark": {"type": "line", "strokeWidth": 1.4}},
            {"data": {"name": "pts"}, "transform": [{"filter": "datum.panel == 'D' && datum.sd > 0"}], "mark": {"type": "errorbar", "ticks": {"size": 6}, "thickness": 1.5}, "encoding": {"yError": {"field": "sd"}}},
            {"data": {"name": "pts"}, "transform": [{"filter": "datum.panel == 'D'"}], "mark": {"type": "point", "filled": true, "opacity": 1, "size": 40},
              "encoding": {
                "shape": {"field": "series", "type": "nominal", "legend": null, "scale": {"domain": ["FBE5-D9", "FBE5-D10", "FBE5-E5", "FBE5-F9", "FBE5-F11"], "range": ["circle", "square", "triangle-up", "triangle-down", "diamond"]}}
              }}
          ]
        }
      ]
    }
  ]
}
